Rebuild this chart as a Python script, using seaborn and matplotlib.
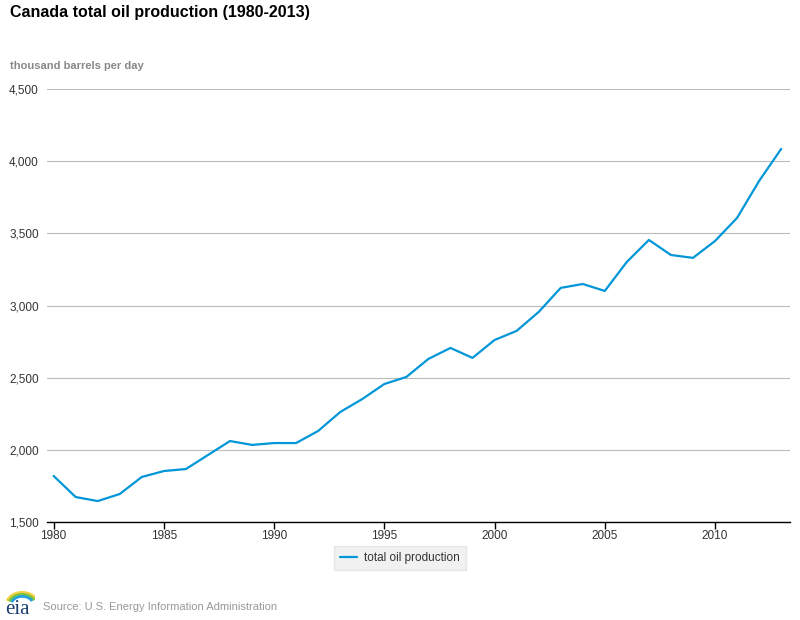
import matplotlib
matplotlib.use("Agg")
import matplotlib.pyplot as plt
import seaborn as sns
import pandas as pd
from matplotlib.patches import Arc

years = list(range(1980, 2014))
production = [1819, 1673, 1645, 1694, 1812, 1853, 1867, 1964, 2061, 2034,
              2047, 2047, 2131, 2262, 2352, 2456, 2505, 2630, 2706, 2637,
              2761, 2824, 2955, 3122, 3149, 3101, 3302, 3454, 3350, 3330,
              3447, 3607, 3863, 4085]
x_ticks = [1980, 1985, 1990, 1995, 2000, 2005, 2010]
y_ticks = [1500, 2000, 2500, 3000, 3500, 4000, 4500]
series_name = "total oil production"

df = pd.DataFrame({"year": years, "value": production, "series": series_name})

sns.set_theme(style="white")
plt.rcParams['font.family'] = ['Liberation Sans', 'DejaVu Sans']

fig = plt.figure(figsize=(8, 6.2), dpi=100)
ax = fig.add_axes([47/800, 1-522/620, (790-47)/800, (522-89)/620])

sns.lineplot(data=df, x="year", y="value", hue="series", palette=["#0096d7"],
             linewidth=1.6, ax=ax, legend=False)

ax.set_xlim(1979.7, 2013.4)
ax.set_ylim(1500, 4500)
ax.set_yticks(y_ticks)
ax.set_yticklabels([f"{v:,}" for v in y_ticks], fontsize=8.5, color="#333333")
ax.set_xticks(x_ticks)
ax.set_xticklabels([str(v) for v in x_ticks], fontsize=8.5, color="#333333")
ax.yaxis.grid(True, color="#bbbbbb", linewidth=0.8)
ax.set_axisbelow(True)
for s in ["top", "right", "left"]:
    ax.spines[s].set_visible(False)
ax.spines["bottom"].set_color("#000000")
ax.spines["bottom"].set_linewidth(1)
ax.tick_params(axis="x", which="both", bottom=True, length=5, width=1,
               color="#000000", pad=1, direction="out")
ax.tick_params(axis="y", length=0, pad=6)
ax.set_xlabel("")
ax.set_ylabel("")

fig.text(10/800, 1-12/620, "Canada total oil production (1980-2013)",
         fontsize=11.5, fontweight="bold", color="#000000", va="center", ha="left")
fig.text(10/800, 1-66/620, "thousand barrels per day",
         fontsize=8, fontweight="bold", color="#888888", va="center", ha="left")

# legend box
from matplotlib.lines import Line2D
leg = fig.legend(handles=[Line2D([], [], color="#0096d7", linewidth=1.6)],
                 labels=[series_name], loc="center", bbox_to_anchor=(400/800, 1-558/620),
                 frameon=True, fontsize=8.5, handlelength=1.4, handletextpad=0.6,
                 borderpad=0.55, fancybox=False)
leg.get_frame().set_facecolor("#eeeeee")
leg.get_frame().set_edgecolor("#e2e2e2")
for t in leg.get_texts():
    t.set_color("#333333")

# source line with simple eia mark
fig.text(5/800, 1-609/620, "eia", fontsize=15, color="#1a3d6d", va="center",
         ha="left", family="Liberation Serif")
lax = fig.add_axes([3/800, 1-606/620, 32/800, 16/620])
lax.set_xlim(0, 1); lax.set_ylim(0, 1); lax.axis("off")
for i, c in enumerate(["#f4d03f", "#7cc242", "#26a3dd"]):
    lax.add_patch(Arc((0.6, 0.05), 1.0 - i*0.15, 1.6 - i*0.25, theta1=40, theta2=150,
                      color=c, linewidth=2))
fig.text(43/800, 1-607/620, "Source: U.S. Energy Information Administration",
         fontsize=8, color="#999999", va="center", ha="left")

fig.savefig("out.png", dpi=100)
